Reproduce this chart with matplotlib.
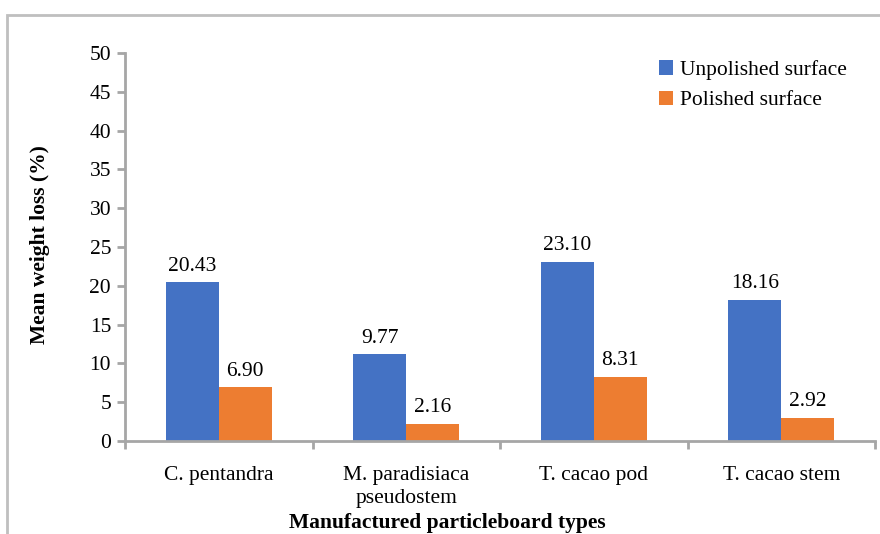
import matplotlib
matplotlib.use("Agg")
import matplotlib.pyplot as plt
import numpy as np
from matplotlib.patches import Rectangle

categories = ["C. pentandra", "M. paradisiaca\npseudostem", "T. cacao pod", "T. cacao stem"]
unpolished = [20.43, 11.15, 23.10, 18.16]
polished = [6.90, 2.16, 8.31, 2.92]
unpolished_labels = ["20.43", "9.77", "23.10", "18.16"]
polished_labels = ["6.90", "2.16", "8.31", "2.92"]
series_names = ["Unpolished surface", "Polished surface"]
yticks = [0, 5, 10, 15, 20, 25, 30, 35, 40, 45, 50]

plt.rcParams['font.family'] = ['Liberation Serif', 'DejaVu Serif']

fig = plt.figure(figsize=(8.8, 5.34), dpi=100)
ax = fig.add_axes([125/880, 1-441/534, (875-125)/880, (441-53)/534])

blue = "#4472C4"
orange = "#ED7D31"
grey = "#A6A6A6"
fs = 15.5

x = np.arange(len(categories))
w = 0.283
b1 = ax.bar(x - w/2, unpolished, w, color=blue, label=series_names[0])
b2 = ax.bar(x + w/2, polished, w, color=orange, label=series_names[1])

for bars, labs in ((b1, unpolished_labels), (b2, polished_labels)):
    for rect, lab in zip(bars, labs):
        ax.annotate(lab, (rect.get_x() + rect.get_width()/2, rect.get_height()),
                    xytext=(0, 5), textcoords="offset points", ha="center", va="bottom", fontsize=fs)

ax.set_xlim(-0.5, len(categories) - 0.5)
ax.set_ylim(0, 50)
ax.set_yticks(yticks)
ax.tick_params(axis="y", labelsize=fs, length=6, width=2, color=grey, pad=4)

ax.set_xticks(np.arange(len(categories) + 1) - 0.5)
ax.set_xticklabels([])
ax.tick_params(axis="x", which="major", length=6, width=2, color=grey)
ax.set_xticks(x, minor=True)
ax.set_xticklabels(categories, minor=True, fontsize=fs, linespacing=1.25)
ax.tick_params(axis="x", which="minor", length=0, pad=18)

for s in ["top", "right"]:
    ax.spines[s].set_visible(False)
for s in ["left", "bottom"]:
    ax.spines[s].set_color(grey)
    ax.spines[s].set_linewidth(2)

fig.text(40/880, 1-245/534, "Mean weight loss (%)", fontsize=15.5, fontweight="bold",
         rotation=90, ha="center", va="center")
fig.text(447/880, 1-523/534, "Manufactured particleboard types", fontsize=15.5, fontweight="bold",
         ha="center", va="center")

leg = fig.legend(handles=[b1, b2], labels=series_names, loc="upper left",
                 bbox_to_anchor=(644/880, 1-45/534), frameon=False, fontsize=fs,
                 handlelength=0.65, handleheight=0.65, handletextpad=0.3, labelspacing=0.5,
                 borderpad=0.2)

fig.patches.append(Rectangle((7/880, -0.1), 2, 1.1 - 15/534, transform=fig.transFigure,
                             fill=False, edgecolor="#BFBFBF", linewidth=2))

fig.savefig("out.png", dpi=100)
